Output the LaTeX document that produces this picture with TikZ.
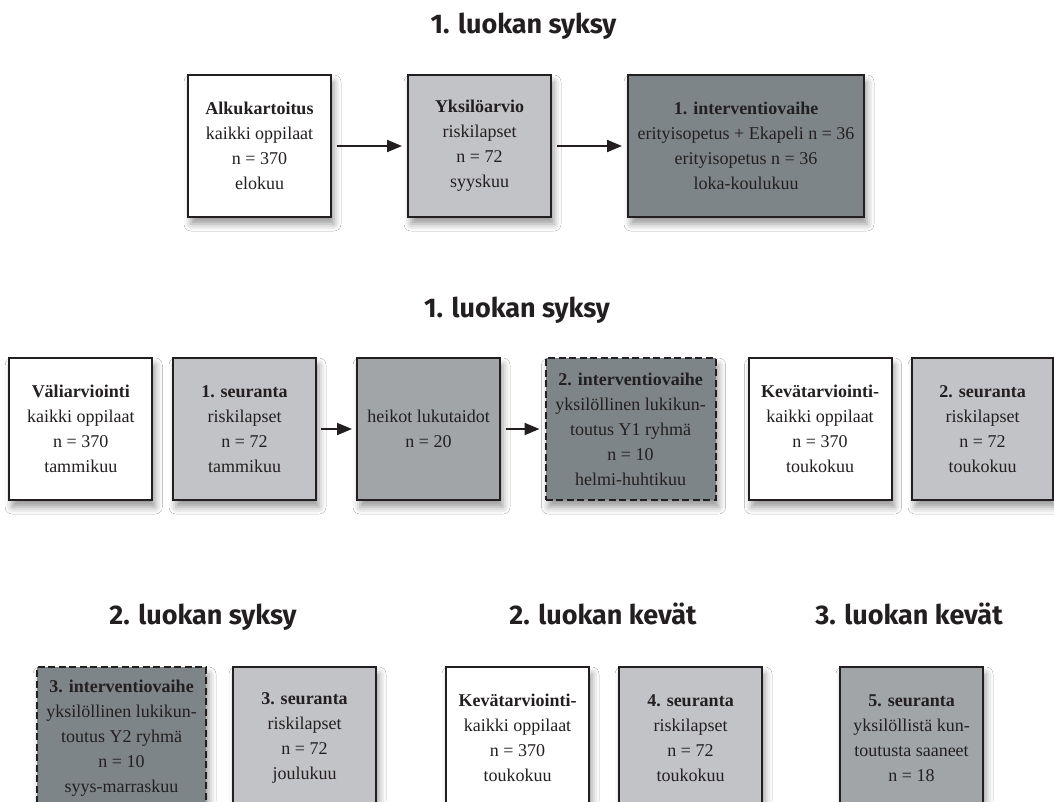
\documentclass[tikz,border=0pt]{standalone}
\usepackage{fontspec}
\setmainfont{Liberation Serif}
\newfontfamily\headfont{Fira Sans}[UprightFont={* SemiBold},BoldFont={* Bold}]
\usetikzlibrary{arrows.meta,shadows.blur}
\definecolor{ink}{HTML}{231F20}
\definecolor{gLight}{HTML}{C2C3C6}
\definecolor{gMid}{HTML}{A1A5A8}
\definecolor{gDark}{HTML}{7E8588}
\tikzset{
 box/.style={draw=ink, line width=2pt, text=ink, align=center, inner sep=2pt,
   minimum width=143pt, minimum height=142pt,
   font=\fontsize{18}{25}\selectfont,
   blur shadow={shadow xshift=3pt, shadow yshift=-7pt, shadow blur radius=7pt, shadow opacity=40}},
 dashbox/.style={box, dash pattern=on 7pt off 3.5pt, minimum width=170pt},
 head/.style={font=\headfont\bfseries\fontsize{27}{32}\selectfont, text=ink, anchor=base, inner sep=0pt},
 arr/.style={draw=ink, line width=2pt, -{Triangle[length=15pt,width=12pt]}, shorten <=5pt, shorten >=5pt}
}
\begin{document}
\begin{tikzpicture}[x=1pt,y=-1pt]
\useasboundingbox (0,0) rectangle (1054,801);
\clip (0,0) rectangle (1054,801);
\fill[white] (0,0) rectangle (1054,801);
% titles
\node[head] (t1) at (523.5,33) {1. luokan syksy};
\node[head] (t2) at (517,317) {1. luokan syksy};
\node[head] (t3) at (203,624) {2. luokan syksy};
\node[head] (t4) at (603,624) {2. luokan kevät};
\node[head] (t5) at (909,624) {3. luokan kevät};
% row 1
\node[box, fill=white] (a) at (259.5,146) {\textbf{Alkukartoitus}\\kaikki oppilaat\\n = 370\\elokuu};
\node[box, fill=gLight] (b) at (479.5,146) {\textbf{Yksilöarvio}\\riskilapset\\n = 72\\syyskuu};
\node[box, fill=gDark, minimum width=236pt] (c) at (746,146) {\textbf{1. interventiovaihe}\\erityisopetus + Ekapeli n = 36\\erityisopetus n = 36\\loka-koulukuu};
\draw[arr] (a) -- (b);
\draw[arr] (b) -- (c);
% row 2
\node[box, fill=white] (v) at (80.75,429) {\textbf{Väliarviointi}\\kaikki oppilaat\\n = 370\\tammikuu};
\node[box, fill=gLight] (s1) at (244.5,429) {\textbf{1. seuranta}\\riskilapset\\n = 72\\tammikuu};
\node[box, fill=gMid] (h) at (428.5,429) {heikot lukutaidot\\n = 20};
\node[dashbox, fill=gDark] (i2) at (630.5,429) {\textbf{2. interventiovaihe}\\yksilöllinen lukikun-\\toutus Y1 ryhmä\\n = 10\\helmi-huhtikuu};
\node[box, fill=white] (k1) at (820,429) {\textbf{Kevätarviointi-}\\kaikki oppilaat\\n = 370\\toukokuu};
\node[box, fill=gLight, minimum width=141pt] (s2) at (982.5,429) {\textbf{2. seuranta}\\riskilapset\\n = 72\\toukokuu};
\draw[arr, shorten <=4pt, shorten >=4pt] (s1) -- (h);
\draw[arr, shorten <=5pt, shorten >=5pt] (h) -- (i2);
% row 3
\node[dashbox, fill=gDark, minimum width=169pt] (i3) at (121.5,738) {\textbf{3. interventiovaihe}\\yksilöllinen lukikun-\\toutus Y2 ryhmä\\n = 10\\syys-marraskuu};
\node[box, fill=gLight] (s3) at (304.5,738) {\textbf{3. seuranta}\\riskilapset\\n = 72\\joulukuu};
\node[box, fill=white] (k2) at (517.5,738) {\textbf{Kevätarviointi-}\\kaikki oppilaat\\n = 370\\toukokuu};
\node[box, fill=gLight] (s4) at (690.5,738) {\textbf{4. seuranta}\\riskilapset\\n = 72\\toukokuu};
\node[box, fill=gMid] (s5) at (911.5,738) {\textbf{5. seuranta}\\yksilöllistä kun-\\toutusta saaneet\\n = 18};
\end{tikzpicture}
\end{document}
